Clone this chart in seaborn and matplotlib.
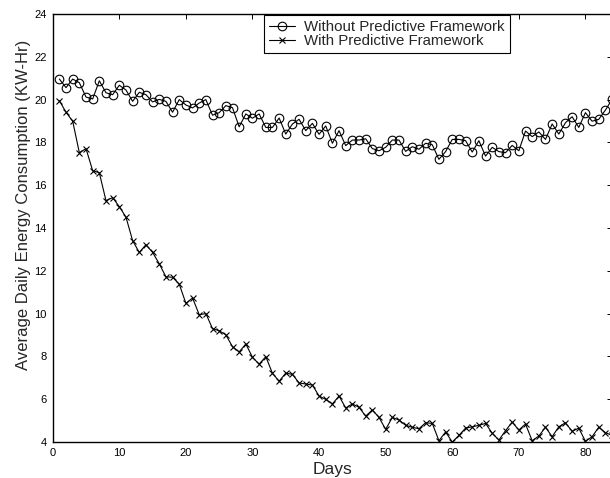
import numpy as np
import pandas as pd
import matplotlib
matplotlib.use("Agg")
import matplotlib.pyplot as plt
import seaborn as sns

days = list(range(1, 85))

without_framework = [
    20.96, 20.56, 20.96, 20.79, 20.12, 20.03, 20.88, 20.32, 20.23, 20.67,
    20.45, 19.92, 20.34, 20.23, 19.89, 20.01, 19.92, 19.41, 20.00, 19.75,
    19.61, 19.84, 20.00, 19.27, 19.39, 19.72, 19.62, 18.73, 19.33, 19.13,
    19.33, 18.70, 18.70, 19.14, 18.39, 18.86, 19.08, 18.55, 18.89, 18.38,
    18.77, 17.96, 18.55, 17.85, 18.11, 18.11, 18.17, 17.71, 17.61, 17.77,
    18.11, 18.11, 17.58, 17.80, 17.68, 17.96, 17.89, 17.21, 17.57, 18.14,
    18.14, 18.08, 17.55, 18.08, 17.36, 17.77, 17.57, 17.52, 17.86, 17.61,
    18.53, 18.27, 18.49, 18.14, 18.86, 18.39, 18.92, 19.20, 18.70, 19.39,
    18.99, 19.08, 19.51, 20.01,
]

with_framework = [
    19.95, 19.41, 18.99, 17.52, 17.71, 16.68, 16.58, 15.28, 15.42, 15.00,
    14.51, 13.41, 12.86, 13.22, 12.86, 12.33, 11.72, 11.70, 11.38, 10.48,
    10.73, 9.95, 10.00, 9.30, 9.20, 9.01, 8.45, 8.21, 8.58, 7.96,
    7.64, 7.99, 7.21, 6.84, 7.22, 7.16, 6.76, 6.71, 6.66, 6.15,
    5.99, 5.78, 6.15, 5.59, 5.78, 5.62, 5.21, 5.50, 5.15, 4.59,
    5.15, 5.03, 4.78, 4.69, 4.62, 4.90, 4.87, 4.06, 4.47, 4.00,
    4.31, 4.65, 4.71, 4.78, 4.87, 4.41, 4.09, 4.53, 4.93, 4.56,
    4.84, 4.06, 4.28, 4.69, 4.25, 4.71, 4.90, 4.50, 4.65, 4.03,
    4.25, 4.69, 4.44, 4.31,
]

x_ticks = [0, 10, 20, 30, 40, 50, 60, 70, 80]
y_ticks = [4, 6, 8, 10, 12, 14, 16, 18, 20, 22, 24]

sns.set_style("white")
plt.rcParams["font.family"] = ["Liberation Sans", "DejaVu Sans"]

fig = plt.figure(figsize=(6.10, 4.78), dpi=100)
ax = fig.add_axes([0.0864, 0.0753, 0.917, 0.8954])

df = pd.DataFrame({
    "Days": days,
    "without": without_framework,
    "with": with_framework,
})

sns.lineplot(data=df, x="Days", y="without", ax=ax, color="black",
             linewidth=0.8, marker="o", markersize=6.2,
             markerfacecolor="none", markeredgecolor="black",
             markeredgewidth=0.8, label="Without Predictive Framework")
sns.lineplot(data=df, x="Days", y="with", ax=ax, color="black",
             linewidth=0.8, marker="x", markersize=4.0,
             markeredgecolor="black", markeredgewidth=0.8,
             label="With Predictive Framework")

ax.set_xlim(0, 84)
ax.set_ylim(4, 24)
ax.set_xticks(x_ticks)
ax.set_yticks(y_ticks)
ax.tick_params(direction="in", length=3.5, width=0.7, top=True, right=True,
               labelsize=8, colors="black")
ax.tick_params(axis="x", pad=4)
ax.tick_params(axis="y", pad=4.5)
for s in ax.spines.values():
    s.set_color("black")
    s.set_linewidth(1.0)

ax.set_xlabel("Days", fontsize=12.5, labelpad=3.5)
ax.set_ylabel("Average Daily Energy Consumption (KW-Hr)", fontsize=12)
ax.yaxis.set_label_coords(-0.039, 0.554)

leg = ax.legend(loc="upper left", bbox_to_anchor=(0.378, 0.998),
                fontsize=10.8, frameon=True, fancybox=False, framealpha=1,
                edgecolor="black", borderpad=0.35, handlelength=1.7,
                handletextpad=0.6, labelspacing=0.0, borderaxespad=0)
leg.get_frame().set_linewidth(0.8)

fig.savefig("out.png", dpi=100)
